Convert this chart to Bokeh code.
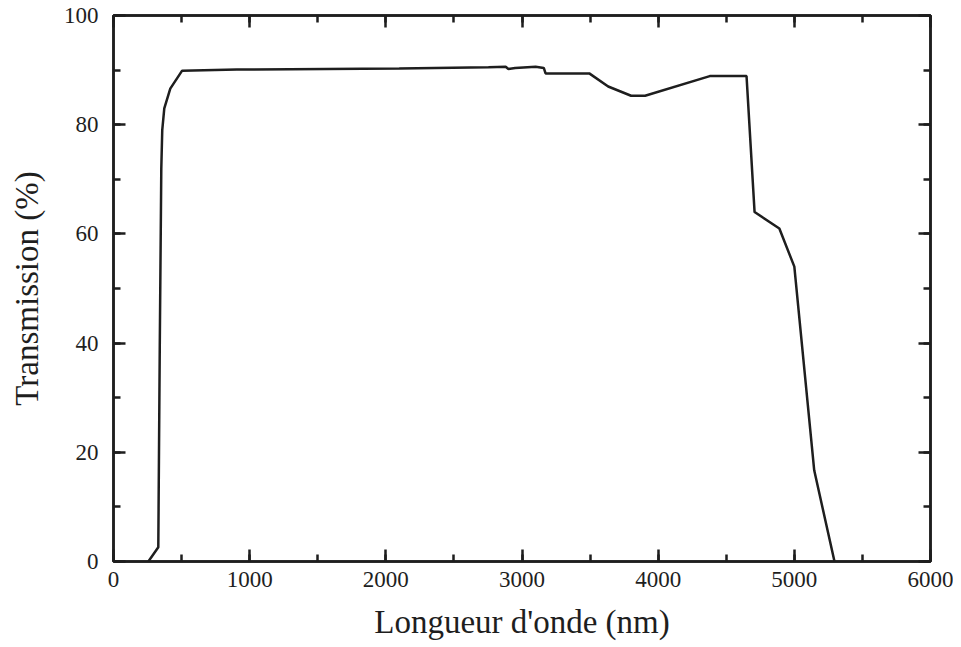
from bokeh.plotting import figure
from bokeh.models import LinearAxis, SingleIntervalTicker, Range1d, CustomJSTickFormatter
from bokeh.embed import file_html
from bokeh.resources import INLINE

# Data
wavelength_nm = [256, 329, 340, 351, 358, 373, 417, 504, 906, 2098, 2754, 2880, 2900,
                 2950, 3100, 3160, 3173, 3494, 3633, 3801, 3904, 4379, 4649, 4708,
                 4890, 5000, 5146, 5295]
transmission_pct = [0, 2.6, 40, 72, 79, 83, 86.6, 89.9, 90.1, 90.3, 90.5, 90.6, 90.2,
                    90.4, 90.6, 90.4, 89.4, 89.4, 87.0, 85.3, 85.3, 88.9, 88.9, 64.0,
                    61.0, 54.0, 16.7, 0]
x_ticks_interval = 1000
y_ticks_interval = 20

FONT = "Liberation Serif"
INK = "#1e1e1e"

p = figure(frame_width=817, frame_height=546, output_backend="svg", toolbar_location=None,
           x_range=Range1d(0, 6000), y_range=Range1d(0, 100),
           min_border_left=113, min_border_top=15, min_border_right=23, min_border_bottom=70,
           x_axis_label="Longueur d'onde (nm)", y_axis_label="Transmission (%)")
p.background_fill_color = "white"
p.border_fill_color = "white"
p.outline_line_color = INK
p.outline_line_width = 2.5
p.xgrid.visible = False
p.ygrid.visible = False

p.line(wavelength_nm, transmission_pct, line_color=INK, line_width=2.5)

def style(ax, interval, labels=True):
    ax.ticker = SingleIntervalTicker(interval=interval, num_minor_ticks=2)
    ax.axis_line_color = INK
    ax.axis_line_width = 2.5
    ax.major_tick_line_color = INK
    ax.major_tick_line_width = 2.5
    ax.minor_tick_line_color = INK
    ax.minor_tick_line_width = 2.5
    ax.major_tick_in = 12
    ax.major_tick_out = 0
    ax.minor_tick_in = 7
    ax.minor_tick_out = 0
    ax.major_label_text_font = FONT
    ax.major_label_text_color = INK
    ax.major_label_text_font_size = "23px"
    ax.axis_label_text_font = FONT
    ax.axis_label_text_color = INK
    ax.axis_label_text_font_size = "33px"
    ax.axis_label_text_font_style = "normal"
    if not labels:
        ax.formatter = CustomJSTickFormatter(code="return ''")
        ax.major_label_standoff = 0

style(p.xaxis[0], x_ticks_interval)
style(p.yaxis[0], y_ticks_interval)
p.xaxis[0].major_label_standoff = 10
p.xaxis[0].axis_label_standoff = 14
p.yaxis[0].major_label_standoff = 15
p.yaxis[0].axis_label_standoff = 16

top = LinearAxis()
style(top, x_ticks_interval, labels=False)
p.add_layout(top, "above")
right = LinearAxis()
style(right, y_ticks_interval, labels=False)
p.add_layout(right, "right")

open("out.html", "w").write(file_html(p, INLINE))
